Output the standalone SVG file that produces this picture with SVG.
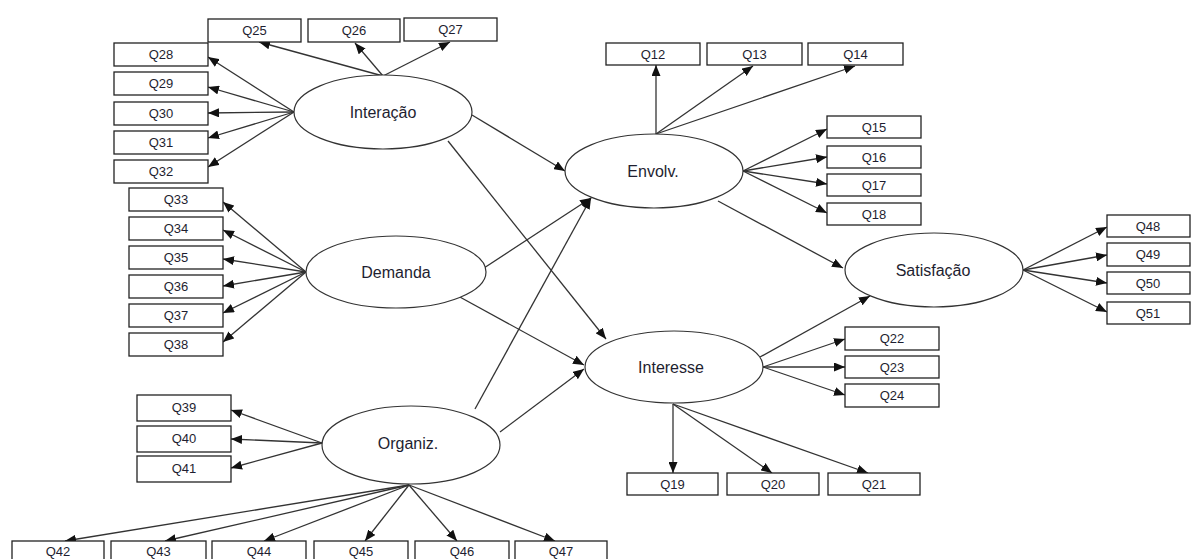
<svg xmlns="http://www.w3.org/2000/svg" width="1191" height="559" viewBox="0 0 1191 559">
<defs>
<marker id="ah" markerUnits="userSpaceOnUse" markerWidth="11" markerHeight="9" refX="11" refY="4.5" orient="auto"><path d="M0,0 L11,4.5 L0,9 z" fill="#111"/></marker>
<style>
.b rect{fill:#fff;stroke:#222;stroke-width:1.3}
.b text{font-family:"Liberation Sans",Arial,sans-serif;font-size:13px;fill:#1e1e30;text-anchor:middle}
.l ellipse{fill:#fff;stroke:#333;stroke-width:1.2}
.l text{font-family:"Liberation Sans",Arial,sans-serif;font-size:16px;fill:#1e1e30;text-anchor:middle}
#edges line{stroke:#333;stroke-width:1.3;marker-end:url(#ah)}
</style>
</defs>
<rect width="1191" height="559" fill="#fff"/>
<g id="edges">
<line x1="383" y1="76" x2="259" y2="42"/>
<line x1="383" y1="76" x2="355" y2="43"/>
<line x1="383" y1="76" x2="450" y2="42"/>
<line x1="294" y1="112" x2="208" y2="57"/>
<line x1="294" y1="112" x2="208" y2="87"/>
<line x1="294" y1="112" x2="208" y2="113"/>
<line x1="294" y1="112" x2="208" y2="138"/>
<line x1="294" y1="112" x2="208" y2="167"/>
<line x1="306" y1="272" x2="223" y2="202"/>
<line x1="306" y1="272" x2="223" y2="230"/>
<line x1="306" y1="272" x2="223" y2="259"/>
<line x1="306" y1="272" x2="223" y2="286"/>
<line x1="306" y1="272" x2="223" y2="313"/>
<line x1="306" y1="272" x2="223" y2="342"/>
<line x1="322" y1="443" x2="231" y2="410"/>
<line x1="322" y1="443" x2="231" y2="439"/>
<line x1="322" y1="443" x2="231" y2="468"/>
<line x1="409" y1="485" x2="65" y2="541"/>
<line x1="409" y1="485" x2="165" y2="541"/>
<line x1="409" y1="485" x2="264" y2="541"/>
<line x1="409" y1="485" x2="365" y2="541"/>
<line x1="409" y1="485" x2="457" y2="541"/>
<line x1="409" y1="485" x2="555" y2="541"/>
<line x1="656" y1="134" x2="656" y2="65"/>
<line x1="656" y1="134" x2="753" y2="66"/>
<line x1="656" y1="134" x2="855" y2="66"/>
<line x1="743" y1="171" x2="827" y2="129"/>
<line x1="743" y1="171" x2="827" y2="157"/>
<line x1="743" y1="171" x2="827" y2="184"/>
<line x1="743" y1="171" x2="827" y2="213"/>
<line x1="763" y1="367" x2="845" y2="339"/>
<line x1="763" y1="367" x2="845" y2="367"/>
<line x1="763" y1="367" x2="845" y2="395"/>
<line x1="673" y1="404" x2="673" y2="473"/>
<line x1="673" y1="404" x2="772" y2="473"/>
<line x1="673" y1="404" x2="868" y2="473"/>
<line x1="1023" y1="270" x2="1107" y2="227"/>
<line x1="1023" y1="270" x2="1107" y2="255"/>
<line x1="1023" y1="270" x2="1107" y2="283"/>
<line x1="1023" y1="270" x2="1107" y2="312"/>
<line x1="472" y1="115" x2="565" y2="171"/>
<line x1="448" y1="141" x2="606" y2="339"/>
<line x1="484" y1="268" x2="591" y2="198"/>
<line x1="475" y1="409" x2="591" y2="198"/>
<line x1="458" y1="296" x2="584" y2="365"/>
<line x1="500" y1="432" x2="584" y2="369"/>
<line x1="718" y1="201" x2="843" y2="268"/>
<line x1="760" y1="357" x2="870" y2="296"/>
</g>
<g id="Interacao" class="l"><ellipse cx="383" cy="112" rx="89" ry="37"/><text x="383" y="118">Interação</text></g>
<g id="Demanda" class="l"><ellipse cx="396" cy="272" rx="90" ry="36"/><text x="396" y="278">Demanda</text></g>
<g id="Organiz" class="l"><ellipse cx="411" cy="445" rx="89" ry="39"/><text x="408" y="449">Organiz.</text></g>
<g id="Envolv" class="l"><ellipse cx="654" cy="171" rx="89" ry="37"/><text x="653" y="177">Envolv.</text></g>
<g id="Interesse" class="l"><ellipse cx="674" cy="367" rx="89" ry="36"/><text x="671" y="373">Interesse</text></g>
<g id="Satisfacao" class="l"><ellipse cx="934" cy="270" rx="89" ry="37"/><text x="933" y="276">Satisfação</text></g>
<g id="Q25" class="b"><rect x="208" y="19" width="93" height="23"/><text x="254.5" y="35">Q25</text></g>
<g id="Q26" class="b"><rect x="308" y="19" width="92" height="23"/><text x="354" y="35">Q26</text></g>
<g id="Q27" class="b"><rect x="404" y="18" width="93" height="23"/><text x="450.5" y="34">Q27</text></g>
<g id="Q28" class="b"><rect x="114" y="43" width="94" height="23"/><text x="161" y="59">Q28</text></g>
<g id="Q29" class="b"><rect x="114" y="72" width="94" height="23"/><text x="161" y="88">Q29</text></g>
<g id="Q30" class="b"><rect x="114" y="102" width="94" height="23"/><text x="161" y="118">Q30</text></g>
<g id="Q31" class="b"><rect x="114" y="131" width="94" height="23"/><text x="161" y="147">Q31</text></g>
<g id="Q32" class="b"><rect x="114" y="160" width="94" height="23"/><text x="161" y="176">Q32</text></g>
<g id="Q33" class="b"><rect x="129" y="188" width="94" height="23"/><text x="176" y="204">Q33</text></g>
<g id="Q34" class="b"><rect x="129" y="217" width="94" height="23"/><text x="176" y="233">Q34</text></g>
<g id="Q35" class="b"><rect x="129" y="246" width="94" height="23"/><text x="176" y="262">Q35</text></g>
<g id="Q36" class="b"><rect x="129" y="275" width="94" height="23"/><text x="176" y="291">Q36</text></g>
<g id="Q37" class="b"><rect x="129" y="304" width="94" height="23"/><text x="176" y="320">Q37</text></g>
<g id="Q38" class="b"><rect x="129" y="333" width="94" height="23"/><text x="176" y="349">Q38</text></g>
<g id="Q39" class="b"><rect x="137" y="395" width="94" height="26"/><text x="184" y="412">Q39</text></g>
<g id="Q40" class="b"><rect x="137" y="426" width="94" height="26"/><text x="184" y="443">Q40</text></g>
<g id="Q41" class="b"><rect x="137" y="456" width="94" height="26"/><text x="184" y="473">Q41</text></g>
<g id="Q42" class="b"><rect x="12" y="541" width="92" height="24"/><text x="58" y="556">Q42</text></g>
<g id="Q43" class="b"><rect x="111" y="541" width="95" height="24"/><text x="158.5" y="556">Q43</text></g>
<g id="Q44" class="b"><rect x="212" y="541" width="94" height="24"/><text x="259" y="556">Q44</text></g>
<g id="Q45" class="b"><rect x="314" y="541" width="94" height="24"/><text x="361" y="556">Q45</text></g>
<g id="Q46" class="b"><rect x="415" y="541" width="94" height="24"/><text x="462" y="556">Q46</text></g>
<g id="Q47" class="b"><rect x="515" y="541" width="92" height="24"/><text x="561" y="556">Q47</text></g>
<g id="Q12" class="b"><rect x="606" y="43" width="94" height="22"/><text x="653" y="58.5">Q12</text></g>
<g id="Q13" class="b"><rect x="707" y="43" width="95" height="22"/><text x="754.5" y="58.5">Q13</text></g>
<g id="Q14" class="b"><rect x="808" y="43" width="95" height="22"/><text x="855.5" y="58.5">Q14</text></g>
<g id="Q15" class="b"><rect x="827" y="116" width="94" height="22"/><text x="874" y="131.5">Q15</text></g>
<g id="Q16" class="b"><rect x="827" y="146" width="94" height="22"/><text x="874" y="161.5">Q16</text></g>
<g id="Q17" class="b"><rect x="827" y="174" width="94" height="22"/><text x="874" y="189.5">Q17</text></g>
<g id="Q18" class="b"><rect x="827" y="203" width="94" height="22"/><text x="874" y="218.5">Q18</text></g>
<g id="Q19" class="b"><rect x="627" y="473" width="91" height="22"/><text x="672.5" y="488.5">Q19</text></g>
<g id="Q20" class="b"><rect x="727" y="473" width="92" height="22"/><text x="773" y="488.5">Q20</text></g>
<g id="Q21" class="b"><rect x="828" y="473" width="92" height="22"/><text x="874" y="488.5">Q21</text></g>
<g id="Q22" class="b"><rect x="845" y="327" width="94" height="23"/><text x="892" y="343">Q22</text></g>
<g id="Q23" class="b"><rect x="845" y="356" width="94" height="22"/><text x="892" y="371.5">Q23</text></g>
<g id="Q24" class="b"><rect x="845" y="384" width="94" height="23"/><text x="892" y="400">Q24</text></g>
<g id="Q48" class="b"><rect x="1107" y="215" width="83" height="22"/><text x="1148" y="230.5">Q48</text></g>
<g id="Q49" class="b"><rect x="1107" y="243" width="83" height="23"/><text x="1148" y="259">Q49</text></g>
<g id="Q50" class="b"><rect x="1107" y="272" width="83" height="22"/><text x="1148" y="287.5">Q50</text></g>
<g id="Q51" class="b"><rect x="1107" y="302" width="83" height="22"/><text x="1148" y="317.5">Q51</text></g>
</svg>
